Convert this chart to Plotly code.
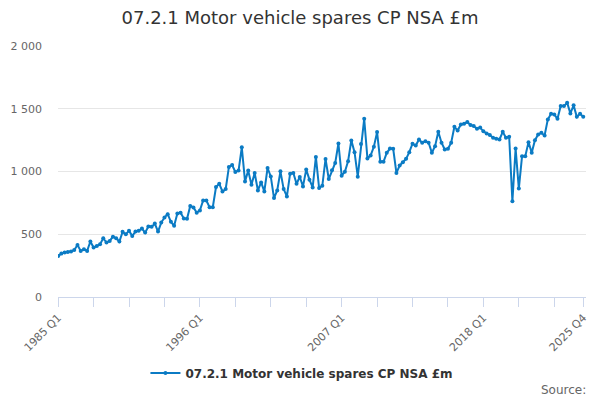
import plotly.graph_objects as go

years = list(range(1985, 2026))
quarters = ["Q1", "Q2", "Q3", "Q4"]
categories = [f"{y} {q}" for y in years for q in quarters]

values = [
    327, 346, 354, 359,
    362, 375, 415, 367,
    380, 367, 442, 394,
    407, 420, 468, 434,
    447, 481, 468, 442,
    519, 500, 527, 487,
    521, 527, 545, 513,
    561, 559, 585, 521,
    593, 633, 660, 599,
    567, 665, 672, 626,
    623, 726, 714, 672,
    690, 769, 769, 716,
    716, 876, 902, 841,
    860, 1036, 1052, 996,
    1007, 1193, 921, 1007,
    894, 988, 849, 913,
    841, 1028, 961, 788,
    849, 1001, 860, 801,
    983, 988, 902, 956,
    881, 1015, 935, 873,
    1116, 868, 886, 1100,
    940, 1009, 1068, 1223,
    967, 998, 1082, 1248,
    1154, 959, 1219, 1420,
    1104, 1128, 1197, 1314,
    1077, 1077, 1149, 1183,
    1181, 989, 1048, 1074,
    1101, 1154, 1221, 1207,
    1255, 1229, 1242, 1229,
    1149, 1202, 1316, 1229,
    1175, 1181, 1229, 1356,
    1327, 1375, 1380, 1394,
    1370, 1362, 1340, 1350,
    1320, 1303, 1291, 1269,
    1261, 1255, 1316, 1269,
    1277, 763, 1183, 864,
    1122, 1122, 1234, 1149,
    1250, 1295, 1308, 1287,
    1415, 1460, 1455, 1420,
    1521, 1521, 1548, 1463,
    1527, 1436, 1460, 1436,
]

series_name = "07.2.1 Motor vehicle spares CP NSA £m"
title_text = "07.2.1 Motor vehicle spares CP NSA £m"
labeled_ticks = ["1985 Q1", "1996 Q1", "2007 Q1", "2018 Q1", "2025 Q4"]
y_ticks = [0, 500, 1000, 1500, 2000]
y_tick_labels = ["0", "500", "1 000", "1 500", "2 000"]

tick_idx = list(range(0, len(categories), 11)) + [len(categories) - 1]
tick_vals = [categories[i] for i in tick_idx]
tick_text = [c if c in labeled_ticks else "" for c in tick_vals]

color = "#0b7bc4"
font = "DejaVu Sans, Verdana, sans-serif"

fig = go.Figure()
fig.add_trace(go.Scatter(
    x=categories, y=values, mode="lines+markers", name=series_name,
    line=dict(color=color, width=2),
    marker=dict(color=color, size=4),
))

fig.update_layout(
    width=600, height=400,
    paper_bgcolor="white", plot_bgcolor="white",
    margin=dict(l=49.5, r=21.5, t=38, b=111, autoexpand=False),
    font=dict(family=font, color="#666666", size=11),
    title=dict(text=title_text, x=0.4867, xanchor="center", y=0.975, yanchor="middle",
               font=dict(size=18, color="#333333", family=font)),
    showlegend=True,
    legend=dict(orientation="h", x=0.462, xanchor="center", yref="container",
                y=0.0875, yanchor="middle",
                font=dict(size=12, color="#333333", family=font, weight="bold"),
                itemwidth=30),
    xaxis=dict(
        type="category", range=[-0.05, 163.85], automargin=False,
        tickmode="array", tickvals=tick_vals, ticktext=tick_text,
        tickangle=-45, ticks="outside", ticklen=9, tickcolor="#ccd6eb",
        showline=True, linecolor="#ccd6eb", linewidth=1,
        showgrid=False, zeroline=False,
        tickfont=dict(size=11, color="#666666"),
    ),
    yaxis=dict(
        range=[0, 2000], tickmode="array", tickvals=y_ticks, ticktext=y_tick_labels,
        automargin=False,
        showgrid=True, gridcolor="#e6e6e6", gridwidth=1,
        zeroline=False, showline=False, ticks="", ticklabelstandoff=15,
        tickfont=dict(size=11, color="#666666"),
    ),
    annotations=[dict(text="Source:", xref="paper", yref="paper", x=1.003, y=-0.37,
                      xanchor="right", yanchor="middle", showarrow=False,
                      font=dict(size=12, color="#666666", family=font))],
)

fig.write_html("out.html")
